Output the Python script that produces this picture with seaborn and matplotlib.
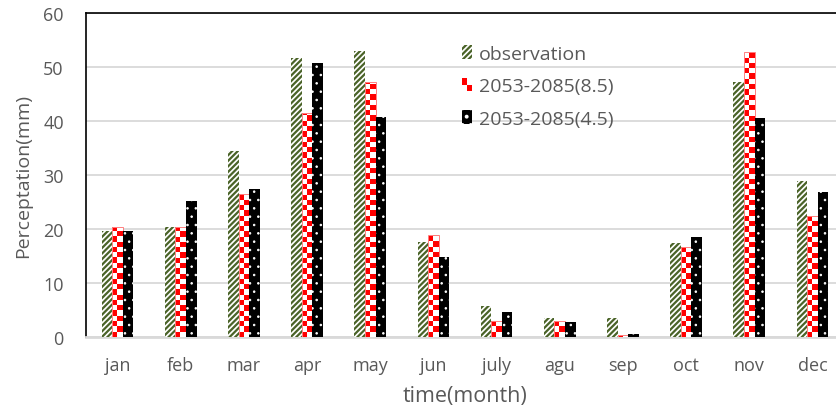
import numpy as np
import pandas as pd
import matplotlib
matplotlib.use("Agg")
import matplotlib.pyplot as plt
import seaborn as sns
from matplotlib.colors import ListedColormap
from matplotlib.patches import Rectangle
from matplotlib.legend_handler import HandlerBase

# Monthly precipitation (mm)
months = ["jan", "feb", "mar", "apr", "may", "jun",
          "july", "agu", "sep", "oct", "nov", "dec"]
observation = [19.7, 20.4, 34.4, 51.7, 53.0, 17.6, 5.7, 3.5, 3.6, 17.4, 47.2, 28.8]
rcp85 = [20.4, 20.3, 26.4, 41.4, 47.3, 18.9, 2.9, 2.9, 0.4, 16.7, 52.7, 22.4]
rcp45 = [19.6, 25.2, 27.5, 50.7, 40.8, 14.8, 4.7, 2.7, 0.6, 18.6, 40.6, 26.8]
series_names = ["observation", "2053-2085(8.5)", "2053-2085(4.5)"]

df = pd.DataFrame({
    "month": months * 3,
    "value": observation + rcp85 + rcp45,
    "series": [series_names[0]] * 12 + [series_names[1]] * 12 + [series_names[2]] * 12,
})

GREEN = "#4A6328"
RED = "#FF0000"
TEXT = "#595959"
GRID = "#D9D9D9"
STRIPES = "//////"
DOTS = ".."

sns.set_style("white")
plt.rcParams["font.family"] = ["Open Sans", "DejaVu Sans"]
plt.rcParams["hatch.linewidth"] = 1.6

fig = plt.figure(figsize=(8.36, 4.14), dpi=100)
ax = fig.add_axes([86 / 836, 76 / 414, 758 / 836, 324 / 414])

sns.barplot(data=df, x="month", y="value", hue="series", order=months,
            hue_order=series_names, width=0.5, ax=ax, legend=False,
            palette=["white", "white", "black"], saturation=1, errorbar=None)

ax.set_ylim(0, 60)
ax.set_xlim(-0.5, 11.5)

obs_bars, r85_bars, r45_bars = ax.containers[:3]

# observation: green diagonal stripes on white
for p in obs_bars:
    p.set_facecolor("white")
    p.set_edgecolor(GREEN)
    p.set_linewidth(0)
    p.set_hatch(STRIPES)
    p.set_zorder(3)

# 2053-2085(4.5): black with white dots
for p in r45_bars:
    p.set_facecolor("black")
    p.set_edgecolor("white")
    p.set_linewidth(0)
    p.set_hatch(DOTS)
    if hasattr(p, "set_hatch_linewidth"):
        p.set_hatch_linewidth(0.6)
    p.set_zorder(3)

# 2053-2085(8.5): red/white checkerboard texture clipped to each bar
fig.canvas.draw()
px_per_y = ax.get_window_extent().height / 60.0
px_per_x = ax.get_window_extent().width / 12.0
checker_cmap = ListedColormap(["white", RED])
for p in r85_bars:
    x0, y0, w, h = p.get_x(), p.get_y(), p.get_width(), p.get_height()
    side_px = w * px_per_x / 2.0
    side_y = side_px / px_per_y
    nrows = max(1, int(np.ceil(h / side_y)))
    rows = np.arange(nrows)[:, None]
    cols = np.arange(2)[None, :]
    tex = ((rows + cols) % 2 == 0).astype(float)
    im = ax.imshow(tex, cmap=checker_cmap, vmin=0, vmax=1, origin="lower",
                   extent=(x0, x0 + w, y0, y0 + nrows * side_y),
                   interpolation="nearest", aspect="auto", zorder=2.9)
    im.set_clip_path(p)
    p.set_facecolor("none")
    p.set_edgecolor("#FF8080")
    p.set_linewidth(0.7)
    p.set_zorder(3)

ax.set_ylim(0, 60)
ax.set_xlim(-0.5, 11.5)
ax.set_yticks(range(0, 61, 10))

ax.grid(axis="y", color=GRID, linewidth=1.3)
ax.grid(axis="x", visible=False)
ax.set_axisbelow(True)

for side in ["left", "top"]:
    ax.spines[side].set_color("black")
    ax.spines[side].set_linewidth(1.2)
ax.spines["right"].set_visible(False)
ax.spines["bottom"].set_color(GRID)
ax.spines["bottom"].set_linewidth(2)

ax.tick_params(axis="both", length=0, colors=TEXT, labelsize=13)
ax.tick_params(axis="y", pad=16)
ax.tick_params(axis="x", pad=14)

ax.set_xlabel("time(month)", fontsize=15.5, color=TEXT)
ax.set_ylabel("Perceptation(mm)", fontsize=14, color=TEXT, labelpad=8)
ax.xaxis.set_label_coords((465 - 86) / 758, -(386 - 338) / 324)


class HandlerChecker(HandlerBase):
    def create_artists(self, legend, orig_handle, xdescent, ydescent,
                       width, height, fontsize, trans):
        hw, hh = width / 2.0, height / 2.0
        return [
            Rectangle((-xdescent, -ydescent + hh), hw, hh, facecolor=RED,
                      edgecolor="none", transform=trans),
            Rectangle((-xdescent + hw, -ydescent), hw, hh, facecolor=RED,
                      edgecolor="none", transform=trans),
        ]


class HandlerHatch(HandlerBase):
    def create_artists(self, legend, orig_handle, xdescent, ydescent,
                       width, height, fontsize, trans):
        r = Rectangle((-xdescent, -ydescent), width, height,
                      facecolor=orig_handle.get_facecolor(),
                      edgecolor=orig_handle.get_edgecolor(),
                      hatch=orig_handle.get_hatch(), linewidth=0,
                      transform=trans)
        return [r]


h_obs = Rectangle((0, 0), 1, 1, facecolor="white", edgecolor=GREEN, hatch=STRIPES)
h_85 = Rectangle((0, 0), 1, 1, facecolor="white")
h_45 = Rectangle((0, 0), 1, 1, facecolor="black", edgecolor="white", hatch=DOTS)

leg = ax.legend([h_obs, h_85, h_45], series_names, frameon=False,
                loc="upper left", bbox_to_anchor=(452 / 836, 1 - 36 / 414),
                bbox_transform=fig.transFigure, fontsize=14,
                handlelength=0.55, handleheight=0.7, handletextpad=0.35,
                labelspacing=0.75, borderpad=0,
                handler_map={h_obs: HandlerHatch(), h_85: HandlerChecker(),
                             h_45: HandlerHatch()})
for t in leg.get_texts():
    t.set_color(TEXT)

fig.savefig("out.png", dpi=100)
